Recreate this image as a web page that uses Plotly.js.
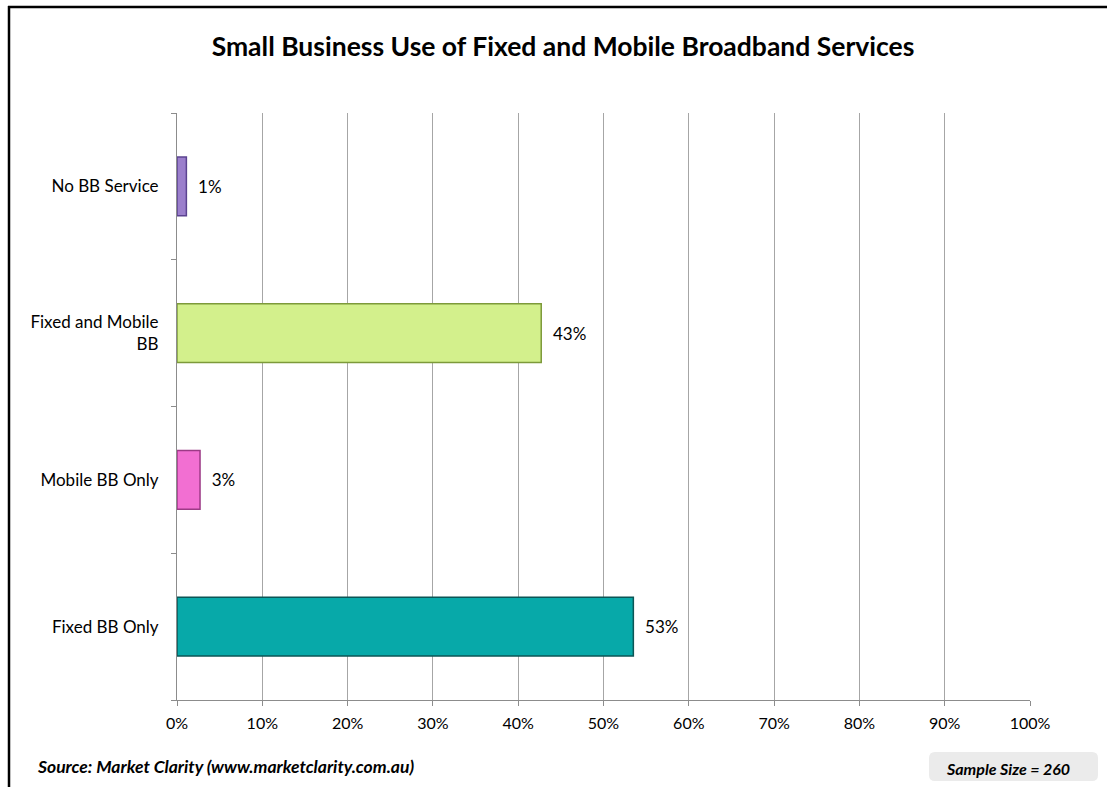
<!DOCTYPE html>
<html>
<head>
<meta charset="utf-8">
<script src="https://cdn.plot.ly/plotly-3.0.1.min.js"></script>
<style>
  html, body { margin: 0; padding: 0; background: #fff; }
  #chart { width: 1107px; height: 787px; }
</style>
</head>
<body>
<div id="chart"></div>
<script>
// Data (bottom to top)
const categories = ["Fixed BB Only", "Mobile BB Only", "Fixed and Mobile<br>BB", "No BB Service"];
const shares = [53.5, 2.7, 42.7, 1.1];
const labels = ["53%", "3%", "43%", "1%"];
const fillColors = ["#07a9a9", "#f26fd2", "#d3f08c", "#9b7fcc"];
const edgeColors = ["#0b5656", "#9c3a86", "#7d9a3a", "#5b4390"];
const xTickVals = [0, 10, 20, 30, 40, 50, 60, 70, 80, 90, 100];
const xTickText = ["0%", "10%", "20%", "30%", "40%", "50%", "60%", "70%", "80%", "90%", "100%"];

const W = 1107, H = 787;
const L = 177, R = 77, T = 113, B = 87;
const pw = W - L - R, ph = H - T - B;
const px = x => (x - L) / pw;
const py = y => (H - B - y) / ph;

const FONT = "Lato, 'Open Sans', sans-serif";

const trace = {
  type: "bar",
  orientation: "h",
  y: categories,
  x: shares,
  width: 0.4,
  text: labels.map(s => "\u00a0\u00a0" + s),
  textposition: "outside",
  cliponaxis: false,
  textfont: { family: FONT, size: 17, color: "#000" },
  marker: { color: fillColors, line: { color: edgeColors, width: 1.5 } },
  hoverinfo: "x+y"
};

// rounded box for sample size
function roundRect(x0, y0, x1, y1, r) {
  const X = v => px(v), Y = v => py(v);
  return `M${X(x0 + r)},${Y(y0)} L${X(x1 - r)},${Y(y0)} Q${X(x1)},${Y(y0)} ${X(x1)},${Y(y0 + r)} ` +
         `L${X(x1)},${Y(y1 - r)} Q${X(x1)},${Y(y1)} ${X(x1 - r)},${Y(y1)} L${X(x0 + r)},${Y(y1)} ` +
         `Q${X(x0)},${Y(y1)} ${X(x0)},${Y(y1 - r)} L${X(x0)},${Y(y0 + r)} Q${X(x0)},${Y(y0)} ${X(x0 + r)},${Y(y0)} Z`;
}

const layout = {
  width: W, height: H,
  margin: { l: L, r: R, t: T, b: B, pad: 0 },
  paper_bgcolor: "#fff",
  plot_bgcolor: "#fff",
  showlegend: false,
  font: { family: FONT, size: 16, color: "#000" },
  title: {
    text: "<b>Small Business Use of Fixed and Mobile Broadband Services</b>",
    font: { family: FONT, size: 26.5, color: "#000" },
    x: 563 / W, xref: "container", xanchor: "center",
    y: 1 - 47 / H, yref: "container", yanchor: "middle"
  },
  xaxis: {
    range: [0, 100],
    tickvals: xTickVals,
    ticktext: xTickText,
    showgrid: true,
    gridcolor: "#a6a6a6",
    gridwidth: 1,
    zeroline: false,
    showline: true,
    linecolor: "#8c8c8c",
    linewidth: 1,
    ticks: "outside",
    ticklen: 5,
    tickcolor: "#8c8c8c",
    ticklabelstandoff: 4,
    tickfont: { family: FONT, size: 16, color: "#000" },
    fixedrange: true
  },
  yaxis: {
    type: "category",
    categoryorder: "array",
    categoryarray: categories,
    range: [-0.5, 3.5],
    showgrid: false,
    zeroline: false,
    showline: true,
    linecolor: "#8c8c8c",
    linewidth: 1,
    ticks: "outside",
    tickson: "boundaries",
    ticklen: 5,
    tickcolor: "#8c8c8c",
    ticklabelstandoff: 14,
    tickfont: { family: FONT, size: 17, color: "#000" },
    fixedrange: true
  },
  shapes: [
    { type: "line", xref: "paper", yref: "paper", x0: px(8), x1: px(1120), y0: py(7), y1: py(7),
      line: { color: "#000", width: 2.5 } },
    { type: "line", xref: "paper", yref: "paper", x0: px(9), x1: px(9), y0: py(6), y1: py(800),
      line: { color: "#000", width: 2.5 } },
    { type: "path", xref: "paper", yref: "paper", path: roundRect(929, 752, 1098, 781, 6),
      fillcolor: "#ebebeb", line: { width: 0 }, layer: "below" }
  ],
  annotations: [
    { xref: "paper", yref: "paper", x: px(35), y: py(766), xanchor: "left", yanchor: "middle",
      text: "<b><i>Source: Market Clarity (www.marketclarity.com.au)</i></b>", showarrow: false,
      font: { family: FONT, size: 17.5, color: "#000" } },
    { xref: "paper", yref: "paper", x: px(1008), y: py(768), xanchor: "center", yanchor: "middle",
      text: "<b><i>Sample Size = 260</i></b>", showarrow: false,
      font: { family: FONT, size: 16, color: "#000" } }
  ]
};

Plotly.newPlot("chart", [trace], layout, { displayModeBar: false, staticPlot: true });
</script>
</body>
</html>
